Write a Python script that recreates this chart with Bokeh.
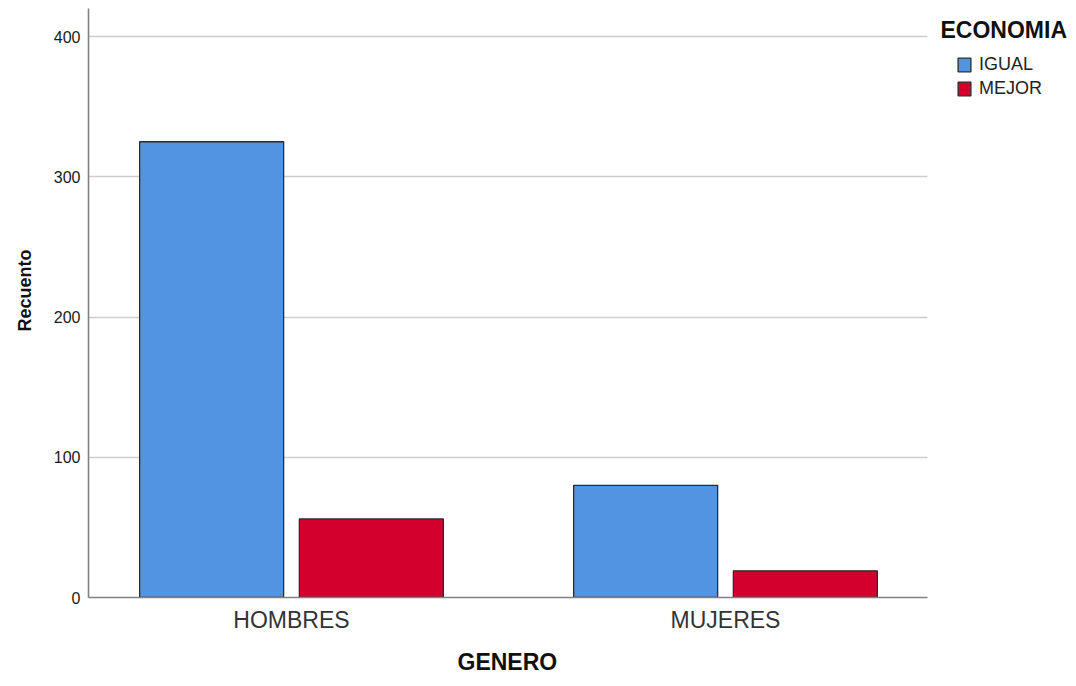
from bokeh.plotting import figure
from bokeh.models import ColumnDataSource, Range1d, FixedTicker, Legend, LegendItem, Label, Title
from bokeh.embed import file_html
from bokeh.resources import INLINE

categories = ["HOMBRES", "MUJERES"]
series = ["IGUAL", "MEJOR"]
igual = [325, 80]
mejor = [56, 19]
colors = ["#5294E2", "#D3002D"]
y_ticks = [0, 100, 200, 300, 400]
legend_title = "ECONOMIA"
x_title = "GENERO"
y_title = "Recuento"

FONT = "Liberation Sans"

X0, X1, XAX = -0.4677, 1.8041, 1.4654   # x-range start/end, end of the visible axis

p = figure(width=1076, height=686, output_backend="svg", toolbar_location=None,
           x_range=Range1d(X0, X1), y_range=Range1d(0, 420),
           min_border_left=88, min_border_right=2, min_border_top=8, min_border_bottom=89)
p.outline_line_color = None
p.background_fill_color = "white"

offsets = [-0.184, 0.184]
width = 0.3318
renderers = []
for vals, off, col, name in zip([igual, mejor], offsets, colors, series):
    src = ColumnDataSource(dict(x=[i + off for i in range(len(categories))], top=vals))
    r = p.vbar(x="x", top="top", width=width, bottom=0, source=src,
               fill_color=col, line_color="#2b2b2b", line_width=1.3)
    renderers.append((name, r))

p.xaxis.ticker = FixedTicker(ticks=list(range(len(categories))))
p.xaxis.major_label_overrides = {i: c for i, c in enumerate(categories)}
p.xaxis.bounds = (X0, XAX)
p.yaxis.ticker = FixedTicker(ticks=y_ticks)

p.xgrid.grid_line_color = None
p.ygrid.grid_line_color = "#cdcdcd"
p.ygrid.grid_line_width = 1.6
p.ygrid.cross_bounds = (X0, XAX)

for ax in (p.xaxis[0], p.yaxis[0]):
    ax.axis_line_color = "#808080"
    ax.axis_line_width = 1.6
    ax.major_tick_line_color = None
    ax.minor_tick_line_color = None
    ax.major_label_text_font = FONT

p.xaxis.major_label_text_font_size = "23px"
p.xaxis.major_label_text_color = "#333333"
p.yaxis.major_label_text_font_size = "16px"
p.yaxis.major_label_text_color = "#1a1a1a"
p.xaxis.major_label_standoff = 3
p.yaxis.major_label_standoff = 2

# axis titles (positioned like the reference, off-centre)
xt = Title(text=x_title, align="left", offset=369, text_font=FONT, text_font_style="bold",
           text_font_size="23px", text_color="#111111", standoff=22)
p.add_layout(xt, "below")
yt = Title(text=y_title, align="left", offset=266, text_font=FONT, text_font_style="bold",
           text_font_size="18px", text_color="#111111", standoff=28, vertical_align="top")
p.add_layout(yt, "left")

title = Label(x=1.4954, y=404.5, text=legend_title, text_font=FONT, text_font_style="bold",
              text_font_size="23px", text_color="#111111", text_baseline="alphabetic")
p.add_layout(title)

legend = Legend(items=[LegendItem(label=n, renderers=[r]) for n, r in renderers])
legend.label_text_font = FONT
legend.label_text_font_size = "18px"
legend.label_text_color = "#222222"
legend.glyph_width = 16
legend.glyph_height = 17
legend.label_height = 17
legend.label_standoff = 7
legend.spacing = 3
legend.border_line_color = None
legend.background_fill_alpha = 0
legend.margin = 0
legend.padding = 0
legend.location = (868, 498)
p.add_layout(legend, "center")

open("out.html", "w").write(file_html(p, INLINE))
